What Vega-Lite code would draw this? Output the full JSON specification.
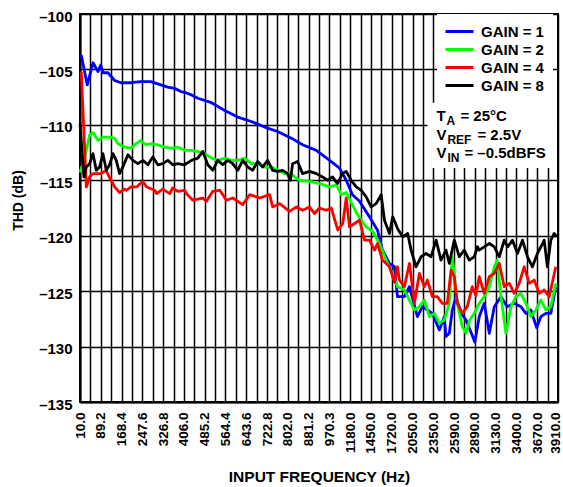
{
  "$schema": "https://vega.github.io/schema/vega-lite/v6.json",
  "width": 478,
  "height": 388,
  "autosize": {"type": "none"},
  "padding": {"left": 80, "top": 14, "right": 5, "bottom": 85},
  "background": "white",
  "config": {
    "font": "Liberation Sans",
    "view": {"stroke": "#000", "strokeWidth": 2},
    "axis": {
      "grid": true, "gridColor": "#000", "gridWidth": 1.5, "gridOpacity": 1,
      "domainColor": "#000", "domainWidth": 2, "ticks": false,
      "labelColor": "#000", "labelFont": "Liberation Sans", "labelFontWeight": "bold",
      "titleFont": "Liberation Sans", "titleFontWeight": "bold", "titleColor": "#000"
    }
  },
  "layer": [
    {
      "data": {"values": [{}]},
      "mark": {"type": "rect", "fill": "white", "stroke": null},
      "encoding": {
        "x": {"datum": 33.43, "type": "quantitative"},
        "x2": {"datum": 45.9},
        "y": {"datum": -108.0, "type": "quantitative"},
        "y2": {"datum": -113.9}
      }
    },
    {
      "data": {"values": [
        {"gain":"GAIN = 1","pos":0.12,"thd":-103.7},{"gain":"GAIN = 1","pos":0.70,"thd":-106.4},{"gain":"GAIN = 1","pos":1.25,"thd":-104.4},{"gain":"GAIN = 1","pos":1.73,"thd":-105.2},{"gain":"GAIN = 1","pos":1.99,"thd":-104.6},{"gain":"GAIN = 1","pos":2.21,"thd":-105.3},{"gain":"GAIN = 1","pos":2.69,"thd":-105.3},{"gain":"GAIN = 1","pos":3.33,"thd":-106.0},{"gain":"GAIN = 1","pos":3.94,"thd":-106.2},{"gain":"GAIN = 1","pos":4.90,"thd":-106.2},{"gain":"GAIN = 1","pos":5.86,"thd":-106.1},{"gain":"GAIN = 1","pos":6.82,"thd":-106.1},{"gain":"GAIN = 1","pos":7.78,"thd":-106.4},{"gain":"GAIN = 1","pos":8.45,"thd":-106.6},{"gain":"GAIN = 1","pos":9.10,"thd":-106.7},{"gain":"GAIN = 1","pos":9.70,"thd":-107.0},{"gain":"GAIN = 1","pos":10.18,"thd":-107.1},{"gain":"GAIN = 1","pos":10.73,"thd":-107.3},{"gain":"GAIN = 1","pos":11.34,"thd":-107.6},{"gain":"GAIN = 1","pos":12.65,"thd":-108.0},{"gain":"GAIN = 1","pos":13.93,"thd":-108.7},{"gain":"GAIN = 1","pos":15.18,"thd":-109.3},{"gain":"GAIN = 1","pos":16.49,"thd":-109.7},{"gain":"GAIN = 1","pos":17.77,"thd":-110.2},{"gain":"GAIN = 1","pos":19.02,"thd":-110.6},{"gain":"GAIN = 1","pos":20.34,"thd":-111.2},{"gain":"GAIN = 1","pos":21.42,"thd":-111.8},{"gain":"GAIN = 1","pos":22.74,"thd":-112.3},{"gain":"GAIN = 1","pos":24.02,"thd":-113.2},{"gain":"GAIN = 1","pos":24.98,"thd":-113.9},{"gain":"GAIN = 1","pos":25.62,"thd":-115.0},{"gain":"GAIN = 1","pos":26.22,"thd":-116.3},{"gain":"GAIN = 1","pos":26.90,"thd":-116.9},{"gain":"GAIN = 1","pos":27.86,"thd":-118.3},{"gain":"GAIN = 1","pos":28.63,"thd":-119.5},{"gain":"GAIN = 1","pos":29.11,"thd":-121.3},{"gain":"GAIN = 1","pos":29.78,"thd":-122.5},{"gain":"GAIN = 1","pos":30.26,"thd":-122.8},{"gain":"GAIN = 1","pos":30.55,"thd":-125.5},{"gain":"GAIN = 1","pos":31.22,"thd":-125.5},{"gain":"GAIN = 1","pos":31.70,"thd":-124.6},{"gain":"GAIN = 1","pos":32.47,"thd":-127.3},{"gain":"GAIN = 1","pos":32.95,"thd":-126.4},{"gain":"GAIN = 1","pos":33.43,"thd":-126.7},{"gain":"GAIN = 1","pos":33.91,"thd":-127.0},{"gain":"GAIN = 1","pos":34.58,"thd":-128.5},{"gain":"GAIN = 1","pos":35.06,"thd":-127.3},{"gain":"GAIN = 1","pos":35.22,"thd":-129.1},{"gain":"GAIN = 1","pos":35.54,"thd":-128.8},{"gain":"GAIN = 1","pos":35.83,"thd":-126.7},{"gain":"GAIN = 1","pos":36.19,"thd":-125.5},{"gain":"GAIN = 1","pos":36.67,"thd":-127.0},{"gain":"GAIN = 1","pos":37.15,"thd":-127.6},{"gain":"GAIN = 1","pos":37.75,"thd":-129.0},{"gain":"GAIN = 1","pos":38.0,"thd":-129.6},{"gain":"GAIN = 1","pos":38.42,"thd":-127.3},{"gain":"GAIN = 1","pos":38.90,"thd":-126.1},{"gain":"GAIN = 1","pos":39.39,"thd":-128.8},{"gain":"GAIN = 1","pos":39.87,"thd":-126.4},{"gain":"GAIN = 1","pos":40.51,"thd":-125.5},{"gain":"GAIN = 1","pos":41.12,"thd":-126.4},{"gain":"GAIN = 1","pos":41.79,"thd":-126.1},{"gain":"GAIN = 1","pos":42.43,"thd":-126.4},{"gain":"GAIN = 1","pos":42.91,"thd":-127.0},{"gain":"GAIN = 1","pos":43.39,"thd":-126.7},{"gain":"GAIN = 1","pos":43.95,"thd":-128.3},{"gain":"GAIN = 1","pos":44.35,"thd":-127.3},{"gain":"GAIN = 1","pos":44.83,"thd":-127.0},{"gain":"GAIN = 1","pos":45.31,"thd":-127.0},{"gain":"GAIN = 1","pos":45.79,"thd":-124.6},
        {"gain":"GAIN = 2","pos":0.0,"thd":-114.3},{"gain":"GAIN = 2","pos":0.45,"thd":-113.0},{"gain":"GAIN = 2","pos":0.93,"thd":-110.9},{"gain":"GAIN = 2","pos":1.25,"thd":-110.7},{"gain":"GAIN = 2","pos":1.73,"thd":-111.4},{"gain":"GAIN = 2","pos":2.21,"thd":-111.1},{"gain":"GAIN = 2","pos":2.69,"thd":-111.1},{"gain":"GAIN = 2","pos":3.33,"thd":-111.2},{"gain":"GAIN = 2","pos":3.65,"thd":-111.7},{"gain":"GAIN = 2","pos":4.29,"thd":-112.0},{"gain":"GAIN = 2","pos":4.90,"thd":-112.1},{"gain":"GAIN = 2","pos":5.38,"thd":-111.7},{"gain":"GAIN = 2","pos":5.86,"thd":-111.4},{"gain":"GAIN = 2","pos":6.34,"thd":-111.8},{"gain":"GAIN = 2","pos":6.82,"thd":-111.7},{"gain":"GAIN = 2","pos":7.49,"thd":-111.8},{"gain":"GAIN = 2","pos":8.14,"thd":-112.0},{"gain":"GAIN = 2","pos":8.77,"thd":-112.1},{"gain":"GAIN = 2","pos":9.41,"thd":-112.0},{"gain":"GAIN = 2","pos":10.06,"thd":-112.3},{"gain":"GAIN = 2","pos":10.73,"thd":-112.3},{"gain":"GAIN = 2","pos":11.34,"thd":-112.4},{"gain":"GAIN = 2","pos":12.01,"thd":-112.6},{"gain":"GAIN = 2","pos":12.65,"thd":-113.0},{"gain":"GAIN = 2","pos":13.26,"thd":-113.2},{"gain":"GAIN = 2","pos":13.93,"thd":-113.0},{"gain":"GAIN = 2","pos":14.57,"thd":-113.2},{"gain":"GAIN = 2","pos":15.18,"thd":-113.2},{"gain":"GAIN = 2","pos":15.85,"thd":-113.0},{"gain":"GAIN = 2","pos":16.49,"thd":-113.5},{"gain":"GAIN = 2","pos":17.10,"thd":-113.5},{"gain":"GAIN = 2","pos":17.77,"thd":-113.8},{"gain":"GAIN = 2","pos":18.42,"thd":-113.8},{"gain":"GAIN = 2","pos":19.02,"thd":-114.1},{"gain":"GAIN = 2","pos":19.69,"thd":-114.4},{"gain":"GAIN = 2","pos":20.17,"thd":-114.3},{"gain":"GAIN = 2","pos":20.8,"thd":-114.8},{"gain":"GAIN = 2","pos":21.13,"thd":-115.0},{"gain":"GAIN = 2","pos":22.09,"thd":-115.1},{"gain":"GAIN = 2","pos":23.05,"thd":-115.3},{"gain":"GAIN = 2","pos":24.02,"thd":-115.6},{"gain":"GAIN = 2","pos":24.66,"thd":-115.4},{"gain":"GAIN = 2","pos":25.14,"thd":-116.3},{"gain":"GAIN = 2","pos":25.62,"thd":-116.1},{"gain":"GAIN = 2","pos":26.10,"thd":-117.0},{"gain":"GAIN = 2","pos":26.58,"thd":-117.9},{"gain":"GAIN = 2","pos":27.06,"thd":-118.6},{"gain":"GAIN = 2","pos":27.54,"thd":-119.2},{"gain":"GAIN = 2","pos":28.15,"thd":-119.6},{"gain":"GAIN = 2","pos":28.82,"thd":-120.7},{"gain":"GAIN = 2","pos":29.46,"thd":-122.2},{"gain":"GAIN = 2","pos":30.07,"thd":-123.4},{"gain":"GAIN = 2","pos":30.55,"thd":-124.6},{"gain":"GAIN = 2","pos":31.22,"thd":-124.9},{"gain":"GAIN = 2","pos":31.70,"thd":-125.8},{"gain":"GAIN = 2","pos":32.18,"thd":-126.7},{"gain":"GAIN = 2","pos":32.66,"thd":-126.4},{"gain":"GAIN = 2","pos":33.14,"thd":-125.8},{"gain":"GAIN = 2","pos":33.62,"thd":-127.3},{"gain":"GAIN = 2","pos":34.10,"thd":-127.0},{"gain":"GAIN = 2","pos":34.58,"thd":-127.9},{"gain":"GAIN = 2","pos":35.06,"thd":-127.6},{"gain":"GAIN = 2","pos":35.54,"thd":-126.1},{"gain":"GAIN = 2","pos":35.83,"thd":-121.9},{"gain":"GAIN = 2","pos":36.31,"thd":-126.1},{"gain":"GAIN = 2","pos":36.79,"thd":-128.2},{"gain":"GAIN = 2","pos":37.15,"thd":-128.8},{"gain":"GAIN = 2","pos":37.5,"thd":-127.6},{"gain":"GAIN = 2","pos":37.94,"thd":-127.0},{"gain":"GAIN = 2","pos":38.42,"thd":-126.1},{"gain":"GAIN = 2","pos":38.90,"thd":-125.5},{"gain":"GAIN = 2","pos":39.39,"thd":-124.6},{"gain":"GAIN = 2","pos":39.87,"thd":-122.8},{"gain":"GAIN = 2","pos":40.15,"thd":-122.2},{"gain":"GAIN = 2","pos":40.51,"thd":-125.5},{"gain":"GAIN = 2","pos":40.99,"thd":-128.8},{"gain":"GAIN = 2","pos":41.47,"thd":-126.4},{"gain":"GAIN = 2","pos":41.95,"thd":-125.5},{"gain":"GAIN = 2","pos":42.43,"thd":-125.2},{"gain":"GAIN = 2","pos":42.91,"thd":-126.1},{"gain":"GAIN = 2","pos":43.39,"thd":-127.3},{"gain":"GAIN = 2","pos":43.87,"thd":-126.7},{"gain":"GAIN = 2","pos":44.35,"thd":-125.8},{"gain":"GAIN = 2","pos":44.83,"thd":-126.7},{"gain":"GAIN = 2","pos":45.31,"thd":-126.4},{"gain":"GAIN = 2","pos":45.79,"thd":-124.3},
        {"gain":"GAIN = 4","pos":0.12,"thd":-105.2},{"gain":"GAIN = 4","pos":0.61,"thd":-115.6},{"gain":"GAIN = 4","pos":0.93,"thd":-114.7},{"gain":"GAIN = 4","pos":1.25,"thd":-114.4},{"gain":"GAIN = 4","pos":1.54,"thd":-114.4},{"gain":"GAIN = 4","pos":2.02,"thd":-114.4},{"gain":"GAIN = 4","pos":2.50,"thd":-114.1},{"gain":"GAIN = 4","pos":2.98,"thd":-115.0},{"gain":"GAIN = 4","pos":3.33,"thd":-115.6},{"gain":"GAIN = 4","pos":3.81,"thd":-116.1},{"gain":"GAIN = 4","pos":4.29,"thd":-115.8},{"gain":"GAIN = 4","pos":4.49,"thd":-115.9},{"gain":"GAIN = 4","pos":4.90,"thd":-115.6},{"gain":"GAIN = 4","pos":5.45,"thd":-115.6},{"gain":"GAIN = 4","pos":6.05,"thd":-115.1},{"gain":"GAIN = 4","pos":6.41,"thd":-115.6},{"gain":"GAIN = 4","pos":7.18,"thd":-115.9},{"gain":"GAIN = 4","pos":7.37,"thd":-116.2},{"gain":"GAIN = 4","pos":7.97,"thd":-115.8},{"gain":"GAIN = 4","pos":8.29,"thd":-116.0},{"gain":"GAIN = 4","pos":8.65,"thd":-116.2},{"gain":"GAIN = 4","pos":8.9,"thd":-115.7},{"gain":"GAIN = 4","pos":9.41,"thd":-116.0},{"gain":"GAIN = 4","pos":10.06,"thd":-115.9},{"gain":"GAIN = 4","pos":10.25,"thd":-116.2},{"gain":"GAIN = 4","pos":10.85,"thd":-116.8},{"gain":"GAIN = 4","pos":11.82,"thd":-116.6},{"gain":"GAIN = 4","pos":12.17,"thd":-116.9},{"gain":"GAIN = 4","pos":12.78,"thd":-116.0},{"gain":"GAIN = 4","pos":13.45,"thd":-115.9},{"gain":"GAIN = 4","pos":14.09,"thd":-116.8},{"gain":"GAIN = 4","pos":14.70,"thd":-116.6},{"gain":"GAIN = 4","pos":15.66,"thd":-117.2},{"gain":"GAIN = 4","pos":16.33,"thd":-116.3},{"gain":"GAIN = 4","pos":17.29,"thd":-116.6},{"gain":"GAIN = 4","pos":18.25,"thd":-116.3},{"gain":"GAIN = 4","pos":18.54,"thd":-117.4},{"gain":"GAIN = 4","pos":19.21,"thd":-117.1},{"gain":"GAIN = 4","pos":20.17,"thd":-117.8},{"gain":"GAIN = 4","pos":20.82,"thd":-117.4},{"gain":"GAIN = 4","pos":21.42,"thd":-117.7},{"gain":"GAIN = 4","pos":22.09,"thd":-117.4},{"gain":"GAIN = 4","pos":22.57,"thd":-118.0},{"gain":"GAIN = 4","pos":23.05,"thd":-117.5},{"gain":"GAIN = 4","pos":23.70,"thd":-117.7},{"gain":"GAIN = 4","pos":24.18,"thd":-117.5},{"gain":"GAIN = 4","pos":24.81,"thd":-119.5},{"gain":"GAIN = 4","pos":25.29,"thd":-118.9},{"gain":"GAIN = 4","pos":25.62,"thd":-116.6},{"gain":"GAIN = 4","pos":25.94,"thd":-119.2},{"gain":"GAIN = 4","pos":26.42,"thd":-118.9},{"gain":"GAIN = 4","pos":26.90,"thd":-118.6},{"gain":"GAIN = 4","pos":27.38,"thd":-120.4},{"gain":"GAIN = 4","pos":27.86,"thd":-120.4},{"gain":"GAIN = 4","pos":28.34,"thd":-121.3},{"gain":"GAIN = 4","pos":28.63,"thd":-120.7},{"gain":"GAIN = 4","pos":29.11,"thd":-122.2},{"gain":"GAIN = 4","pos":29.78,"thd":-122.8},{"gain":"GAIN = 4","pos":30.26,"thd":-124.2},{"gain":"GAIN = 4","pos":30.55,"thd":-122.8},{"gain":"GAIN = 4","pos":30.74,"thd":-124.0},{"gain":"GAIN = 4","pos":31.22,"thd":-124.6},{"gain":"GAIN = 4","pos":31.70,"thd":-122.5},{"gain":"GAIN = 4","pos":32.18,"thd":-126.1},{"gain":"GAIN = 4","pos":32.66,"thd":-123.4},{"gain":"GAIN = 4","pos":33.14,"thd":-124.6},{"gain":"GAIN = 4","pos":33.43,"thd":-124.0},{"gain":"GAIN = 4","pos":33.91,"thd":-125.5},{"gain":"GAIN = 4","pos":34.39,"thd":-125.5},{"gain":"GAIN = 4","pos":34.87,"thd":-126.1},{"gain":"GAIN = 4","pos":35.35,"thd":-126.1},{"gain":"GAIN = 4","pos":35.71,"thd":-123.1},{"gain":"GAIN = 4","pos":36.02,"thd":-123.7},{"gain":"GAIN = 4","pos":36.31,"thd":-126.1},{"gain":"GAIN = 4","pos":36.79,"thd":-127.0},{"gain":"GAIN = 4","pos":37.27,"thd":-126.4},{"gain":"GAIN = 4","pos":37.75,"thd":-124.6},{"gain":"GAIN = 4","pos":38.1,"thd":-125.4},{"gain":"GAIN = 4","pos":38.42,"thd":-123.7},{"gain":"GAIN = 4","pos":38.90,"thd":-125.2},{"gain":"GAIN = 4","pos":39.39,"thd":-123.7},{"gain":"GAIN = 4","pos":39.87,"thd":-123.4},{"gain":"GAIN = 4","pos":40.35,"thd":-122.5},{"gain":"GAIN = 4","pos":40.83,"thd":-124.6},{"gain":"GAIN = 4","pos":41.31,"thd":-124.3},{"gain":"GAIN = 4","pos":41.79,"thd":-125.2},{"gain":"GAIN = 4","pos":42.27,"thd":-124.3},{"gain":"GAIN = 4","pos":42.75,"thd":-122.8},{"gain":"GAIN = 4","pos":43.23,"thd":-124.3},{"gain":"GAIN = 4","pos":43.71,"thd":-124.0},{"gain":"GAIN = 4","pos":44.19,"thd":-125.2},{"gain":"GAIN = 4","pos":44.67,"thd":-124.9},{"gain":"GAIN = 4","pos":45.15,"thd":-125.5},{"gain":"GAIN = 4","pos":45.79,"thd":-122.8},
        {"gain":"GAIN = 8","pos":0.0,"thd":-109.9},{"gain":"GAIN = 8","pos":0.38,"thd":-114.7},{"gain":"GAIN = 8","pos":0.61,"thd":-113.8},{"gain":"GAIN = 8","pos":0.93,"thd":-113.5},{"gain":"GAIN = 8","pos":1.25,"thd":-112.6},{"gain":"GAIN = 8","pos":1.57,"thd":-114.1},{"gain":"GAIN = 8","pos":1.89,"thd":-113.8},{"gain":"GAIN = 8","pos":2.21,"thd":-112.6},{"gain":"GAIN = 8","pos":2.53,"thd":-114.1},{"gain":"GAIN = 8","pos":2.85,"thd":-113.6},{"gain":"GAIN = 8","pos":3.17,"thd":-112.6},{"gain":"GAIN = 8","pos":3.49,"thd":-113.2},{"gain":"GAIN = 8","pos":3.81,"thd":-114.4},{"gain":"GAIN = 8","pos":4.13,"thd":-113.8},{"gain":"GAIN = 8","pos":4.61,"thd":-112.7},{"gain":"GAIN = 8","pos":5.09,"thd":-113.2},{"gain":"GAIN = 8","pos":5.57,"thd":-113.5},{"gain":"GAIN = 8","pos":6.05,"thd":-113.2},{"gain":"GAIN = 8","pos":6.53,"thd":-113.6},{"gain":"GAIN = 8","pos":7.01,"thd":-112.9},{"gain":"GAIN = 8","pos":7.49,"thd":-113.6},{"gain":"GAIN = 8","pos":7.97,"thd":-113.5},{"gain":"GAIN = 8","pos":8.45,"thd":-113.2},{"gain":"GAIN = 8","pos":8.93,"thd":-113.6},{"gain":"GAIN = 8","pos":9.41,"thd":-113.5},{"gain":"GAIN = 8","pos":10.06,"thd":-113.6},{"gain":"GAIN = 8","pos":10.73,"thd":-113.2},{"gain":"GAIN = 8","pos":11.34,"thd":-113.0},{"gain":"GAIN = 8","pos":11.82,"thd":-112.4},{"gain":"GAIN = 8","pos":12.30,"thd":-113.6},{"gain":"GAIN = 8","pos":12.78,"thd":-114.1},{"gain":"GAIN = 8","pos":13.26,"thd":-113.2},{"gain":"GAIN = 8","pos":13.74,"thd":-113.6},{"gain":"GAIN = 8","pos":14.22,"thd":-113.2},{"gain":"GAIN = 8","pos":14.70,"thd":-113.5},{"gain":"GAIN = 8","pos":15.18,"thd":-114.1},{"gain":"GAIN = 8","pos":15.66,"thd":-113.2},{"gain":"GAIN = 8","pos":16.14,"thd":-113.8},{"gain":"GAIN = 8","pos":16.62,"thd":-114.1},{"gain":"GAIN = 8","pos":17.10,"thd":-113.3},{"gain":"GAIN = 8","pos":17.58,"thd":-113.8},{"gain":"GAIN = 8","pos":18.06,"thd":-113.2},{"gain":"GAIN = 8","pos":18.54,"thd":-114.1},{"gain":"GAIN = 8","pos":19.02,"thd":-114.2},{"gain":"GAIN = 8","pos":19.50,"thd":-114.1},{"gain":"GAIN = 8","pos":19.98,"thd":-114.4},{"gain":"GAIN = 8","pos":20.25,"thd":-115.0},{"gain":"GAIN = 8","pos":20.46,"thd":-113.5},{"gain":"GAIN = 8","pos":20.94,"thd":-113.3},{"gain":"GAIN = 8","pos":21.42,"thd":-114.4},{"gain":"GAIN = 8","pos":22.09,"thd":-114.2},{"gain":"GAIN = 8","pos":22.74,"thd":-114.4},{"gain":"GAIN = 8","pos":23.34,"thd":-114.7},{"gain":"GAIN = 8","pos":23.82,"thd":-115.0},{"gain":"GAIN = 8","pos":24.30,"thd":-114.7},{"gain":"GAIN = 8","pos":24.78,"thd":-115.3},{"gain":"GAIN = 8","pos":25.26,"thd":-114.4},{"gain":"GAIN = 8","pos":25.62,"thd":-114.2},{"gain":"GAIN = 8","pos":26.10,"thd":-115.0},{"gain":"GAIN = 8","pos":26.58,"thd":-115.6},{"gain":"GAIN = 8","pos":27.06,"thd":-115.9},{"gain":"GAIN = 8","pos":27.54,"thd":-116.5},{"gain":"GAIN = 8","pos":28.02,"thd":-117.4},{"gain":"GAIN = 8","pos":28.50,"thd":-117.1},{"gain":"GAIN = 8","pos":28.98,"thd":-116.3},{"gain":"GAIN = 8","pos":29.30,"thd":-118.6},{"gain":"GAIN = 8","pos":29.78,"thd":-119.8},{"gain":"GAIN = 8","pos":30.10,"thd":-118.3},{"gain":"GAIN = 8","pos":30.58,"thd":-119.4},{"gain":"GAIN = 8","pos":31.06,"thd":-120.1},{"gain":"GAIN = 8","pos":31.54,"thd":-119.8},{"gain":"GAIN = 8","pos":31.86,"thd":-121.3},{"gain":"GAIN = 8","pos":32.34,"thd":-122.8},{"gain":"GAIN = 8","pos":32.82,"thd":-121.9},{"gain":"GAIN = 8","pos":33.30,"thd":-121.6},{"gain":"GAIN = 8","pos":33.78,"thd":-121.9},{"gain":"GAIN = 8","pos":34.27,"thd":-120.4},{"gain":"GAIN = 8","pos":34.74,"thd":-122.2},{"gain":"GAIN = 8","pos":35.22,"thd":-121.3},{"gain":"GAIN = 8","pos":35.54,"thd":-122.5},{"gain":"GAIN = 8","pos":36.02,"thd":-120.4},{"gain":"GAIN = 8","pos":36.50,"thd":-121.9},{"gain":"GAIN = 8","pos":36.98,"thd":-121.3},{"gain":"GAIN = 8","pos":37.46,"thd":-122.2},{"gain":"GAIN = 8","pos":37.94,"thd":-121.9},{"gain":"GAIN = 8","pos":38.26,"thd":-121.0},{"gain":"GAIN = 8","pos":38.42,"thd":-121.3},{"gain":"GAIN = 8","pos":38.90,"thd":-121.0},{"gain":"GAIN = 8","pos":39.39,"thd":-120.7},{"gain":"GAIN = 8","pos":39.87,"thd":-121.0},{"gain":"GAIN = 8","pos":40.35,"thd":-121.9},{"gain":"GAIN = 8","pos":40.83,"thd":-120.4},{"gain":"GAIN = 8","pos":41.15,"thd":-121.0},{"gain":"GAIN = 8","pos":41.62,"thd":-120.4},{"gain":"GAIN = 8","pos":42.10,"thd":-121.6},{"gain":"GAIN = 8","pos":42.58,"thd":-120.4},{"gain":"GAIN = 8","pos":43.06,"thd":-121.9},{"gain":"GAIN = 8","pos":43.54,"thd":-122.8},{"gain":"GAIN = 8","pos":44.02,"thd":-121.6},{"gain":"GAIN = 8","pos":44.35,"thd":-121.0},{"gain":"GAIN = 8","pos":44.67,"thd":-120.4},{"gain":"GAIN = 8","pos":44.98,"thd":-122.8},{"gain":"GAIN = 8","pos":45.31,"thd":-120.4},{"gain":"GAIN = 8","pos":45.63,"thd":-119.8},{"gain":"GAIN = 8","pos":45.89,"thd":-120.1}
      ]},
      "mark": {"type": "line", "strokeWidth": 2.8, "strokeJoin": "round"},
      "encoding": {
        "x": {
          "field": "pos", "type": "quantitative",
          "scale": {"domain": [0, 46], "nice": false, "zero": false},
          "axis": {
            "values": [0,1,2,3,4,5,6,7,8,9,10,11,12,13,14,15,16,17,18,19,20,21,22,23,24,25,26,27,28,29,30,31,32,33,34,35,36,37,38,39,40,41,42,43,44,45,46],
            "tickCount": 100,
            "labelExpr": "datum.value % 2 == 0 ? ['10.0','89.2','168.4','247.6','326.8','406.0','485.2','564.4','643.6','722.8','802.0','881.2','970.3','1180.0','1450.0','1720.0','2050.0','2350.0','2590.0','2890.0','3130.0','3400.0','3670.0','3910.0'][datum.value / 2] : ''",
            "labelAngle": -90, "labelFontSize": 13.5, "labelPadding": 10,
            "labelOffset": {"condition": {"test": "datum.value == 46", "value": -3}, "value": 0},
            "labelOverlap": false, "labelFlush": false, "labelBound": false,
            "title": "INPUT FREQUENCY (Hz)", "titleFontSize": 15.5,
            "titleY": 74, "titleBaseline": "middle"
          }
        },
        "y": {
          "field": "thd", "type": "quantitative",
          "scale": {"domain": [-135, -100], "nice": false, "zero": false},
          "axis": {
            "values": [-135,-130,-125,-120,-115,-110,-105,-100],
            "tickCount": 20,
            "labelExpr": "'–' + abs(datum.value)",
            "labelFontSize": 15, "labelPadding": 8, "labelBaseline": "middle", "labelOffset": 2,
            "title": "THD (dB)", "titleFontSize": 14,
            "titleX": -62, "titleY": 186, "titleAlign": "center", "titleBaseline": "middle"
          }
        },
        "color": {
          "field": "gain", "type": "nominal",
          "scale": {"domain": ["GAIN = 1","GAIN = 2","GAIN = 4","GAIN = 8"], "range": ["#0000ff","#00ff00","#ff0000","#000000"]},
          "legend": {
            "orient": "none", "legendX": 357, "legendY": 0, "title": null,
            "symbolType": "M-2,0H2", "symbolSize": 196, "symbolStrokeWidth": 3, "symbolOffset": 5,
            "labelFontSize": 15, "labelFontWeight": "bold", "labelFont": "Liberation Sans", "labelColor": "#000",
            "fillColor": "white", "padding": 9, "rowPadding": 1, "labelOffset": 13
          }
        }
      }
    },
    {
      "data": {"values": [{}]},
      "mark": {"type": "text", "text": "T", "align": "left", "baseline": "middle", "fontSize": 15, "fontWeight": "bold", "color": "#000"},
      "encoding": {"x": {"datum": 34.3, "type": "quantitative"}, "y": {"datum": -109.2, "type": "quantitative"}}
    },
    {
      "data": {"values": [{}]},
      "mark": {"type": "text", "text": "A", "align": "left", "baseline": "middle", "dx": 10, "dy": 5, "fontSize": 12, "fontWeight": "bold", "color": "#000"},
      "encoding": {"x": {"datum": 34.3, "type": "quantitative"}, "y": {"datum": -109.2, "type": "quantitative"}}
    },
    {
      "data": {"values": [{}]},
      "mark": {"type": "text", "text": "= 25°C", "align": "left", "baseline": "middle", "dx": 24, "fontSize": 15, "fontWeight": "bold", "color": "#000"},
      "encoding": {"x": {"datum": 34.3, "type": "quantitative"}, "y": {"datum": -109.2, "type": "quantitative"}}
    },
    {
      "data": {"values": [{}]},
      "mark": {"type": "text", "text": "V", "align": "left", "baseline": "middle", "fontSize": 15, "fontWeight": "bold", "color": "#000"},
      "encoding": {"x": {"datum": 34.3, "type": "quantitative"}, "y": {"datum": -110.9, "type": "quantitative"}}
    },
    {
      "data": {"values": [{}]},
      "mark": {"type": "text", "text": "REF", "align": "left", "baseline": "middle", "dx": 11, "dy": 5, "fontSize": 12, "fontWeight": "bold", "color": "#000"},
      "encoding": {"x": {"datum": 34.3, "type": "quantitative"}, "y": {"datum": -110.9, "type": "quantitative"}}
    },
    {
      "data": {"values": [{}]},
      "mark": {"type": "text", "text": "= 2.5V", "align": "left", "baseline": "middle", "dx": 41, "fontSize": 15, "fontWeight": "bold", "color": "#000"},
      "encoding": {"x": {"datum": 34.3, "type": "quantitative"}, "y": {"datum": -110.9, "type": "quantitative"}}
    },
    {
      "data": {"values": [{}]},
      "mark": {"type": "text", "text": "V", "align": "left", "baseline": "middle", "fontSize": 15, "fontWeight": "bold", "color": "#000"},
      "encoding": {"x": {"datum": 34.3, "type": "quantitative"}, "y": {"datum": -112.55, "type": "quantitative"}}
    },
    {
      "data": {"values": [{}]},
      "mark": {"type": "text", "text": "IN", "align": "left", "baseline": "middle", "dx": 11, "dy": 5, "fontSize": 12, "fontWeight": "bold", "color": "#000"},
      "encoding": {"x": {"datum": 34.3, "type": "quantitative"}, "y": {"datum": -112.55, "type": "quantitative"}}
    },
    {
      "data": {"values": [{}]},
      "mark": {"type": "text", "text": "= –0.5dBFS", "align": "left", "baseline": "middle", "dx": 28, "fontSize": 15, "fontWeight": "bold", "color": "#000"},
      "encoding": {"x": {"datum": 34.3, "type": "quantitative"}, "y": {"datum": -112.55, "type": "quantitative"}}
    }
  ]
}
